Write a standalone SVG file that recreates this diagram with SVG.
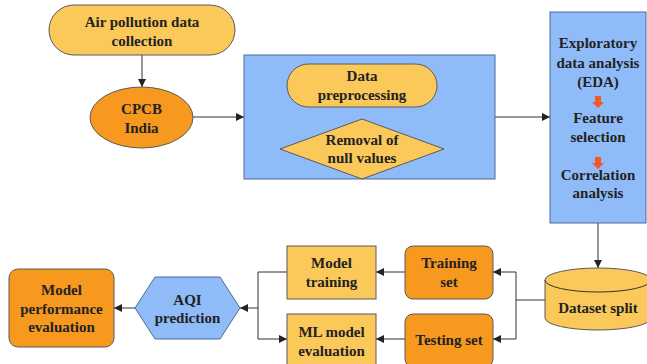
<svg xmlns="http://www.w3.org/2000/svg" width="647" height="364" viewBox="0 0 647 364">
<style>
.t{font-family:"Liberation Serif","Times New Roman",serif;font-weight:bold;font-size:15px;fill:#222;text-anchor:middle;dominant-baseline:central}
.lo{fill:#fbc85a;stroke:#5a5a5a;stroke-width:1}
.do{fill:#f7981f;stroke:#5a5a5a;stroke-width:1}
.bl{fill:#8fbcf8;stroke:#4d6b95;stroke-width:1}
.c{fill:none;stroke:#333;stroke-width:1}
.ca{fill:none;stroke:#333;stroke-width:1;marker-end:url(#ah)}
</style>
<defs>
<marker id="ah" viewBox="0 0 10 10" refX="10" refY="5" markerWidth="8" markerHeight="8" markerUnits="userSpaceOnUse" orient="auto">
<path d="M0,0 L10,5 L0,10 Z" fill="#222"/>
</marker>
</defs>
<rect width="647" height="364" fill="#fff"/>
<g id="connectors">
<path class="ca" d="M142,55 V87"/>
<path class="ca" d="M193,117 H244"/>
<path class="ca" d="M363,107 V119"/>
<path class="ca" d="M495,117 H550"/>
<path class="ca" d="M598,223 V268"/>
<path class="c" d="M545,300 H516"/>
<path class="ca" d="M516,300 V272 H493"/>
<path class="ca" d="M516,300 V339 H493"/>
<path class="ca" d="M405,272 H376"/>
<path class="ca" d="M405,339 H376"/>
<path class="c" d="M287,272 H258 V308"/>
<path class="ca" d="M258,308 V339 H287"/>
<path class="ca" d="M258,308 H240"/>
<path class="ca" d="M135,308 H114"/>
</g>
<g id="air-pollution">
<rect class="lo" x="49" y="5" width="186" height="50" rx="25"/>
<text class="t" x="142" y="22">Air pollution data</text>
<text class="t" x="142" y="41">collection</text>
</g>
<g id="cpcb">
<ellipse class="do" cx="141.5" cy="117.5" rx="51.5" ry="30.5"/>
<text class="t" x="141.5" y="109">CPCB</text>
<text class="t" x="141.5" y="128">India</text>
</g>
<g id="preprocessing-box">
<rect class="bl" x="244" y="55" width="251" height="124"/>
</g>
<g id="data-preprocessing">
<rect class="lo" x="287" y="64" width="150" height="43" rx="21.5"/>
<text class="t" x="362" y="76">Data</text>
<text class="t" x="362" y="95">preprocessing</text>
</g>
<g id="removal-null">
<polygon class="lo" points="362,119 444,149 362,179 280,149"/>
<text class="t" x="362" y="140">Removal of</text>
<text class="t" x="362" y="158">null values</text>
</g>
<g id="eda">
<rect class="bl" x="550" y="12" width="96" height="211"/>
<text class="t" x="598" y="43">Exploratory</text>
<text class="t" x="598" y="63">data analysis</text>
<text class="t" x="598" y="82">(EDA)</text>
<path d="M595,96 H601 V102 H604 L598,108 L592,102 H595 Z" fill="#f05a28"/>
<text class="t" x="598" y="118">Feature</text>
<text class="t" x="598" y="137">selection</text>
<path d="M595,157 H601 V163 H604 L598,169 L592,163 H595 Z" fill="#f05a28"/>
<text class="t" x="598" y="175">Correlation</text>
<text class="t" x="598" y="193">analysis</text>
</g>
<g id="dataset-split">
<path class="lo" d="M545,280 A53,12 0 0 1 651,280 V318 A53,12 0 0 1 545,318 Z"/>
<path class="c" d="M545,280 A53,12 0 0 0 651,280" stroke="#5a5a5a"/>
<text class="t" x="598" y="308">Dataset split</text>
</g>
<g id="training-set">
<rect class="do" x="405" y="246" width="88" height="53" rx="8"/>
<text class="t" x="449" y="263">Training</text>
<text class="t" x="449" y="282">set</text>
</g>
<g id="testing-set">
<rect class="do" x="405" y="314" width="88" height="53" rx="8"/>
<text class="t" x="449" y="340">Testing set</text>
</g>
<g id="model-training">
<rect class="lo" x="287" y="246" width="89" height="53"/>
<text class="t" x="331.5" y="263">Model</text>
<text class="t" x="331.5" y="282">training</text>
</g>
<g id="ml-model-evaluation">
<rect class="lo" x="287" y="314" width="89" height="53"/>
<text class="t" x="331.5" y="332">ML model</text>
<text class="t" x="331.5" y="351">evaluation</text>
</g>
<g id="aqi-prediction">
<polygon class="bl" points="135,308 155,277 220,277 240,308 220,339 155,339"/>
<text class="t" x="187.5" y="300">AQI</text>
<text class="t" x="187.5" y="318">prediction</text>
</g>
<g id="model-performance">
<rect class="do" x="9" y="269" width="105" height="78" rx="9"/>
<text class="t" x="61.5" y="290">Model</text>
<text class="t" x="61.5" y="309">performance</text>
<text class="t" x="61.5" y="327">evaluation</text>
</g>
</svg>
